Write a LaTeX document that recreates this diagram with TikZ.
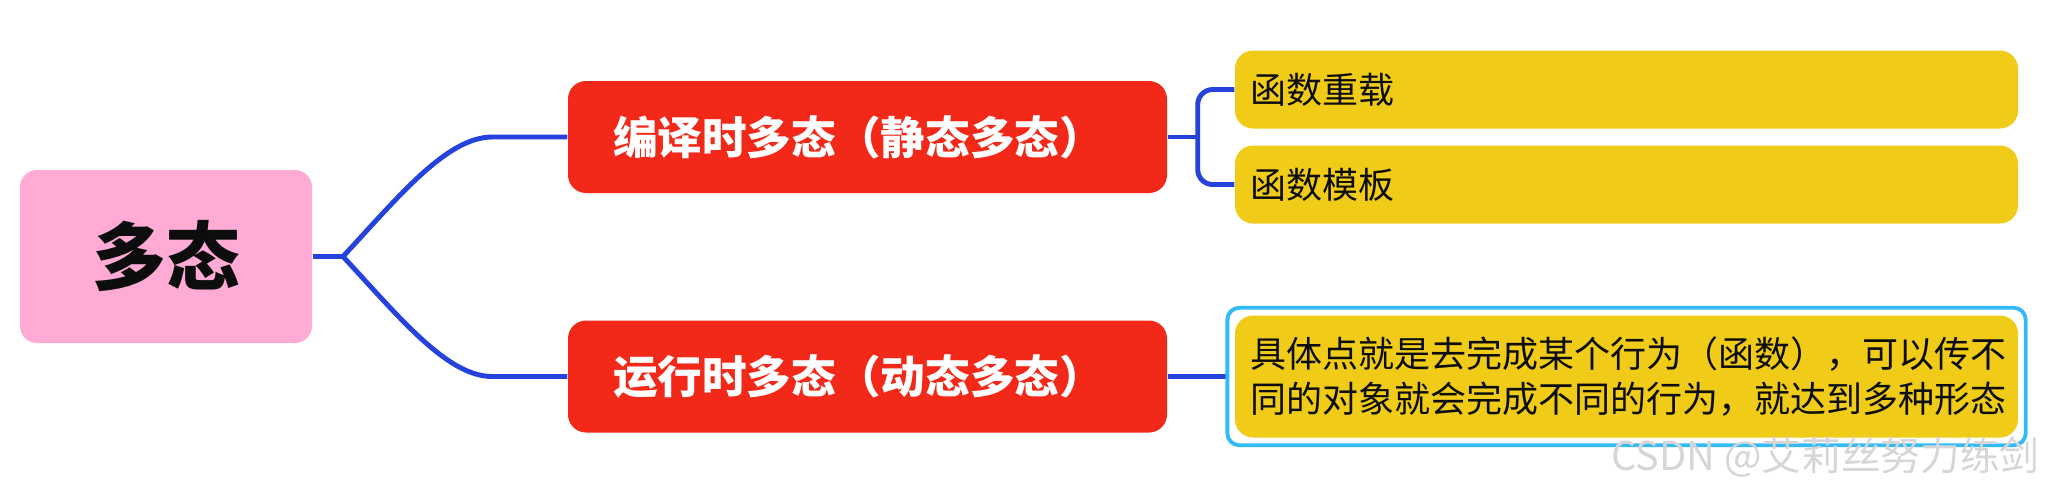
\documentclass[tikz,border=0pt]{standalone}
\usepackage{fontspec}
\newfontfamily\cjk{Noto Sans CJK SC}
\usetikzlibrary{positioning}

\definecolor{rootpink}{HTML}{FFABD6}
\definecolor{branchred}{HTML}{F22819}
\definecolor{leafyellow}{HTML}{F0CC19}
\definecolor{linkblue}{HTML}{2542DC}
\definecolor{pickblue}{HTML}{33BBF5}
\definecolor{markgray}{HTML}{D6D6D6}

\begin{document}
\begin{tikzpicture}[
	rootbox/.style={rectangle,rounded corners=0.17cm,fill=rootpink,minimum width=2.92cm,minimum height=1.73cm,text=black!95,font=\cjk\bfseries\fontsize{21}{25}\selectfont},
	branchbox/.style={rectangle,rounded corners=0.18cm,fill=branchred,text=white,minimum height=1.12cm,text width=5.09cm,inner xsep=0.45cm,align=left,font=\cjk\bfseries\fontsize{12.7}{15}\selectfont},
	leafbox/.style={rectangle,rounded corners=0.18cm,fill=leafyellow,text=black!95,text width=7.53cm,inner xsep=0.15cm,align=left,font=\cjk\fontsize{10.25}{13}\selectfont},
	link/.style={draw=linkblue,line width=1.4pt},
	watermark/.style={text=markgray,font=\cjk\fontsize{11.3}{13}\selectfont}]
	\useasboundingbox (0,0) rectangle (20.56,-4.90);

	\node[rootbox] (poly) at (1.66,-2.565) {多态};
	\node[branchbox] (static) at (8.675,-1.37) {编译时多态（静态多态）};
	\node[branchbox] (dynamic) at (8.675,-3.765) {运行时多态（动态多态）};
	\node[leafbox,minimum height=0.78cm] (overload) at (16.265,-0.895) {函数重载};
	\node[leafbox,minimum height=0.78cm] (template) at (16.265,-1.845) {函数模板};
	\node[leafbox,minimum height=1.22cm] (detail) at (16.265,-3.765) {具体点就是去完成某个行为（函数），可以传不\\同的对象就会完成不同的行为，就达到多种形态};

	\coordinate (fork) at (3.43,-2.565);
	\coordinate (split) at ([xshift=0.3cm]static.east);

	\draw[link] (poly.east) -- (fork);
	\draw[link] (fork) .. controls (4.0,-1.95) and ([xshift=-1.2cm]static.west) .. ([xshift=-0.75cm]static.west) -- (static.west);
	\draw[link] (fork) .. controls (4.0,-3.18) and ([xshift=-1.2cm]dynamic.west) .. ([xshift=-0.75cm]dynamic.west) -- (dynamic.west);
	\draw[link] (static.east) -- (split);
	\draw[link,rounded corners=0.15cm] (overload.west) -| (split) |- (template.west);
	\draw[link,shorten >=0.07cm] (dynamic.east) -- (detail.west);

	% selection frame
	\draw[pickblue,line width=1.1pt,rounded corners=0.12cm] ([shift={(-0.07,0.07)}]detail.north west) rectangle ([shift={(0.07,-0.07)}]detail.south east);

	\node[watermark,anchor=base east] (wm) at (20.52,-4.70) {CSDN @艾莉丝努力练剑};
\end{tikzpicture}
\end{document}
